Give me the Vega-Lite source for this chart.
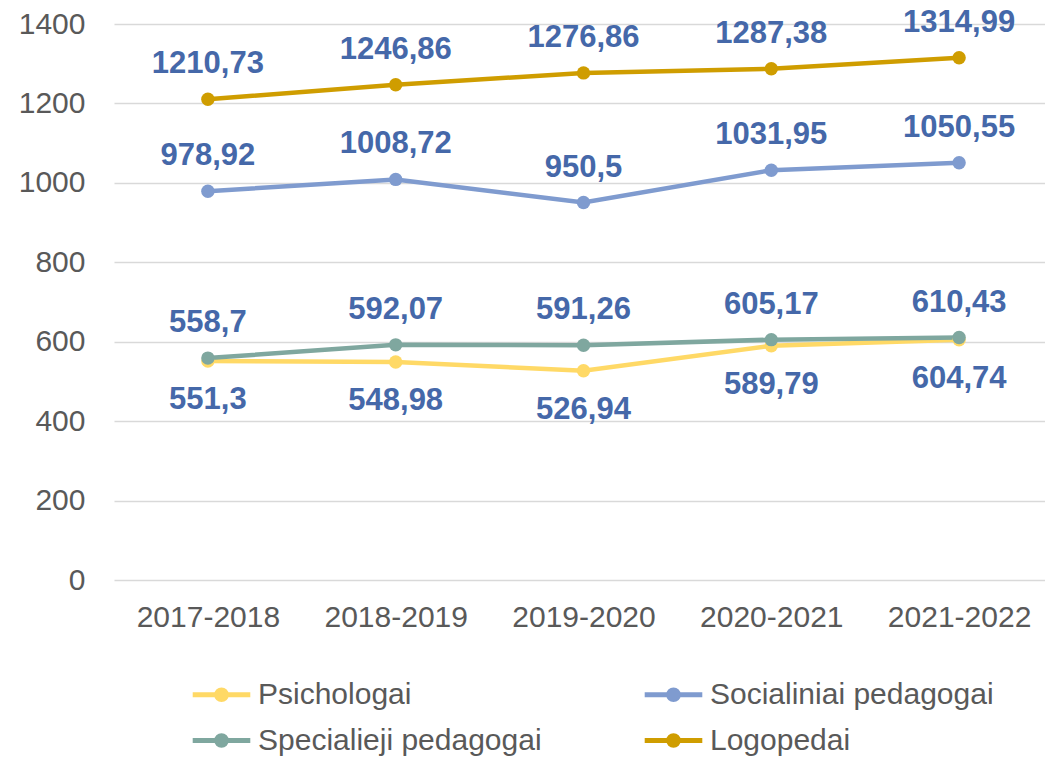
{
  "$schema": "https://vega.github.io/schema/vega-lite/v6.json",
  "width": 939,
  "height": 556,
  "autosize": {"type": "none"},
  "padding": {"left": 114, "top": 24, "right": 0, "bottom": 178},
  "background": "white",
  "config": {
    "font": "Liberation Sans",
    "view": {"stroke": null},
    "axis": {"labelFont": "Liberation Sans", "labelFontSize": 30, "labelColor": "#595959", "ticks": false, "domain": false, "title": null}
  },
  "data": {
    "values": [
      {"year": "2017-2018", "series": "Psichologai", "value": 551.3, "label": "551,3"},
      {"year": "2018-2019", "series": "Psichologai", "value": 548.98, "label": "548,98"},
      {"year": "2019-2020", "series": "Psichologai", "value": 526.94, "label": "526,94"},
      {"year": "2020-2021", "series": "Psichologai", "value": 589.79, "label": "589,79"},
      {"year": "2021-2022", "series": "Psichologai", "value": 604.74, "label": "604,74"},
      {"year": "2017-2018", "series": "Socialiniai pedagogai", "value": 978.92, "label": "978,92"},
      {"year": "2018-2019", "series": "Socialiniai pedagogai", "value": 1008.72, "label": "1008,72"},
      {"year": "2019-2020", "series": "Socialiniai pedagogai", "value": 950.5, "label": "950,5"},
      {"year": "2020-2021", "series": "Socialiniai pedagogai", "value": 1031.95, "label": "1031,95"},
      {"year": "2021-2022", "series": "Socialiniai pedagogai", "value": 1050.55, "label": "1050,55"},
      {"year": "2017-2018", "series": "Specialieji pedagogai", "value": 558.7, "label": "558,7"},
      {"year": "2018-2019", "series": "Specialieji pedagogai", "value": 592.07, "label": "592,07"},
      {"year": "2019-2020", "series": "Specialieji pedagogai", "value": 591.26, "label": "591,26"},
      {"year": "2020-2021", "series": "Specialieji pedagogai", "value": 605.17, "label": "605,17"},
      {"year": "2021-2022", "series": "Specialieji pedagogai", "value": 610.43, "label": "610,43"},
      {"year": "2017-2018", "series": "Logopedai", "value": 1210.73, "label": "1210,73"},
      {"year": "2018-2019", "series": "Logopedai", "value": 1246.86, "label": "1246,86"},
      {"year": "2019-2020", "series": "Logopedai", "value": 1276.86, "label": "1276,86"},
      {"year": "2020-2021", "series": "Logopedai", "value": 1287.38, "label": "1287,38"},
      {"year": "2021-2022", "series": "Logopedai", "value": 1314.99, "label": "1314,99"}
    ]
  },
  "encoding": {
    "x": {"field": "year", "type": "ordinal", "scale": {"type": "point", "padding": 0.5}, "axis": {"labelAngle": 0, "labelPadding": 22}},
    "y": {"field": "value", "type": "quantitative", "scale": {"domain": [0, 1400]}, "axis": {"values": [0, 200, 400, 600, 800, 1000, 1200, 1400], "format": "d", "gridColor": "#d9d9d9", "gridWidth": 1.5, "labelPadding": 29}}
  },
  "layer": [
    {
      "mark": {"type": "line", "strokeWidth": 4.5},
      "encoding": {
        "color": {
          "field": "series", "type": "nominal",
          "scale": {"domain": ["Psichologai", "Socialiniai pedagogai", "Specialieji pedagogai", "Logopedai"], "range": ["#FFD966", "#7F9BCF", "#7FA79F", "#CF9D00"]},
          "legend": {
            "title": null, "orient": "none", "direction": "horizontal", "legendX": 81, "legendY": 644, "columns": 2,
            "columnPadding": 92, "rowPadding": 4,
            "labelFontSize": 30, "labelColor": "#595959", "labelFont": "Liberation Sans", "labelOffset": 10, "labelLimit": 500,
            "symbolType": "M-1.2,0H1.2M-0.2,0A0.2,0.2 0 1,0 0.2,0A0.2,0.2 0 1,0 -0.2,0Z",
            "symbolSize": 2304, "symbolStrokeWidth": 5,
            "encode": {"symbols": {"update": {"fill": {"scale": "color", "field": "value"}, "stroke": {"scale": "color", "field": "value"}, "strokeWidth": {"value": 5}, "opacity": {"value": 1}}}}
          }
        }
      }
    },
    {
      "mark": {"type": "point", "filled": true, "size": 180, "opacity": 1},
      "encoding": {"color": {"field": "series", "type": "nominal", "legend": null}}
    },
    {
      "transform": [{"filter": "datum.series !== 'Psichologai'"}],
      "mark": {"type": "text", "fontSize": 31, "fontWeight": "bold", "color": "#4568A9", "dy": -35, "baseline": "middle"},
      "encoding": {"text": {"field": "label"}}
    },
    {
      "transform": [{"filter": "datum.series === 'Psichologai'"}],
      "mark": {"type": "text", "fontSize": 31, "fontWeight": "bold", "color": "#4568A9", "dy": 39, "baseline": "middle"},
      "encoding": {"text": {"field": "label"}}
    }
  ]
}
